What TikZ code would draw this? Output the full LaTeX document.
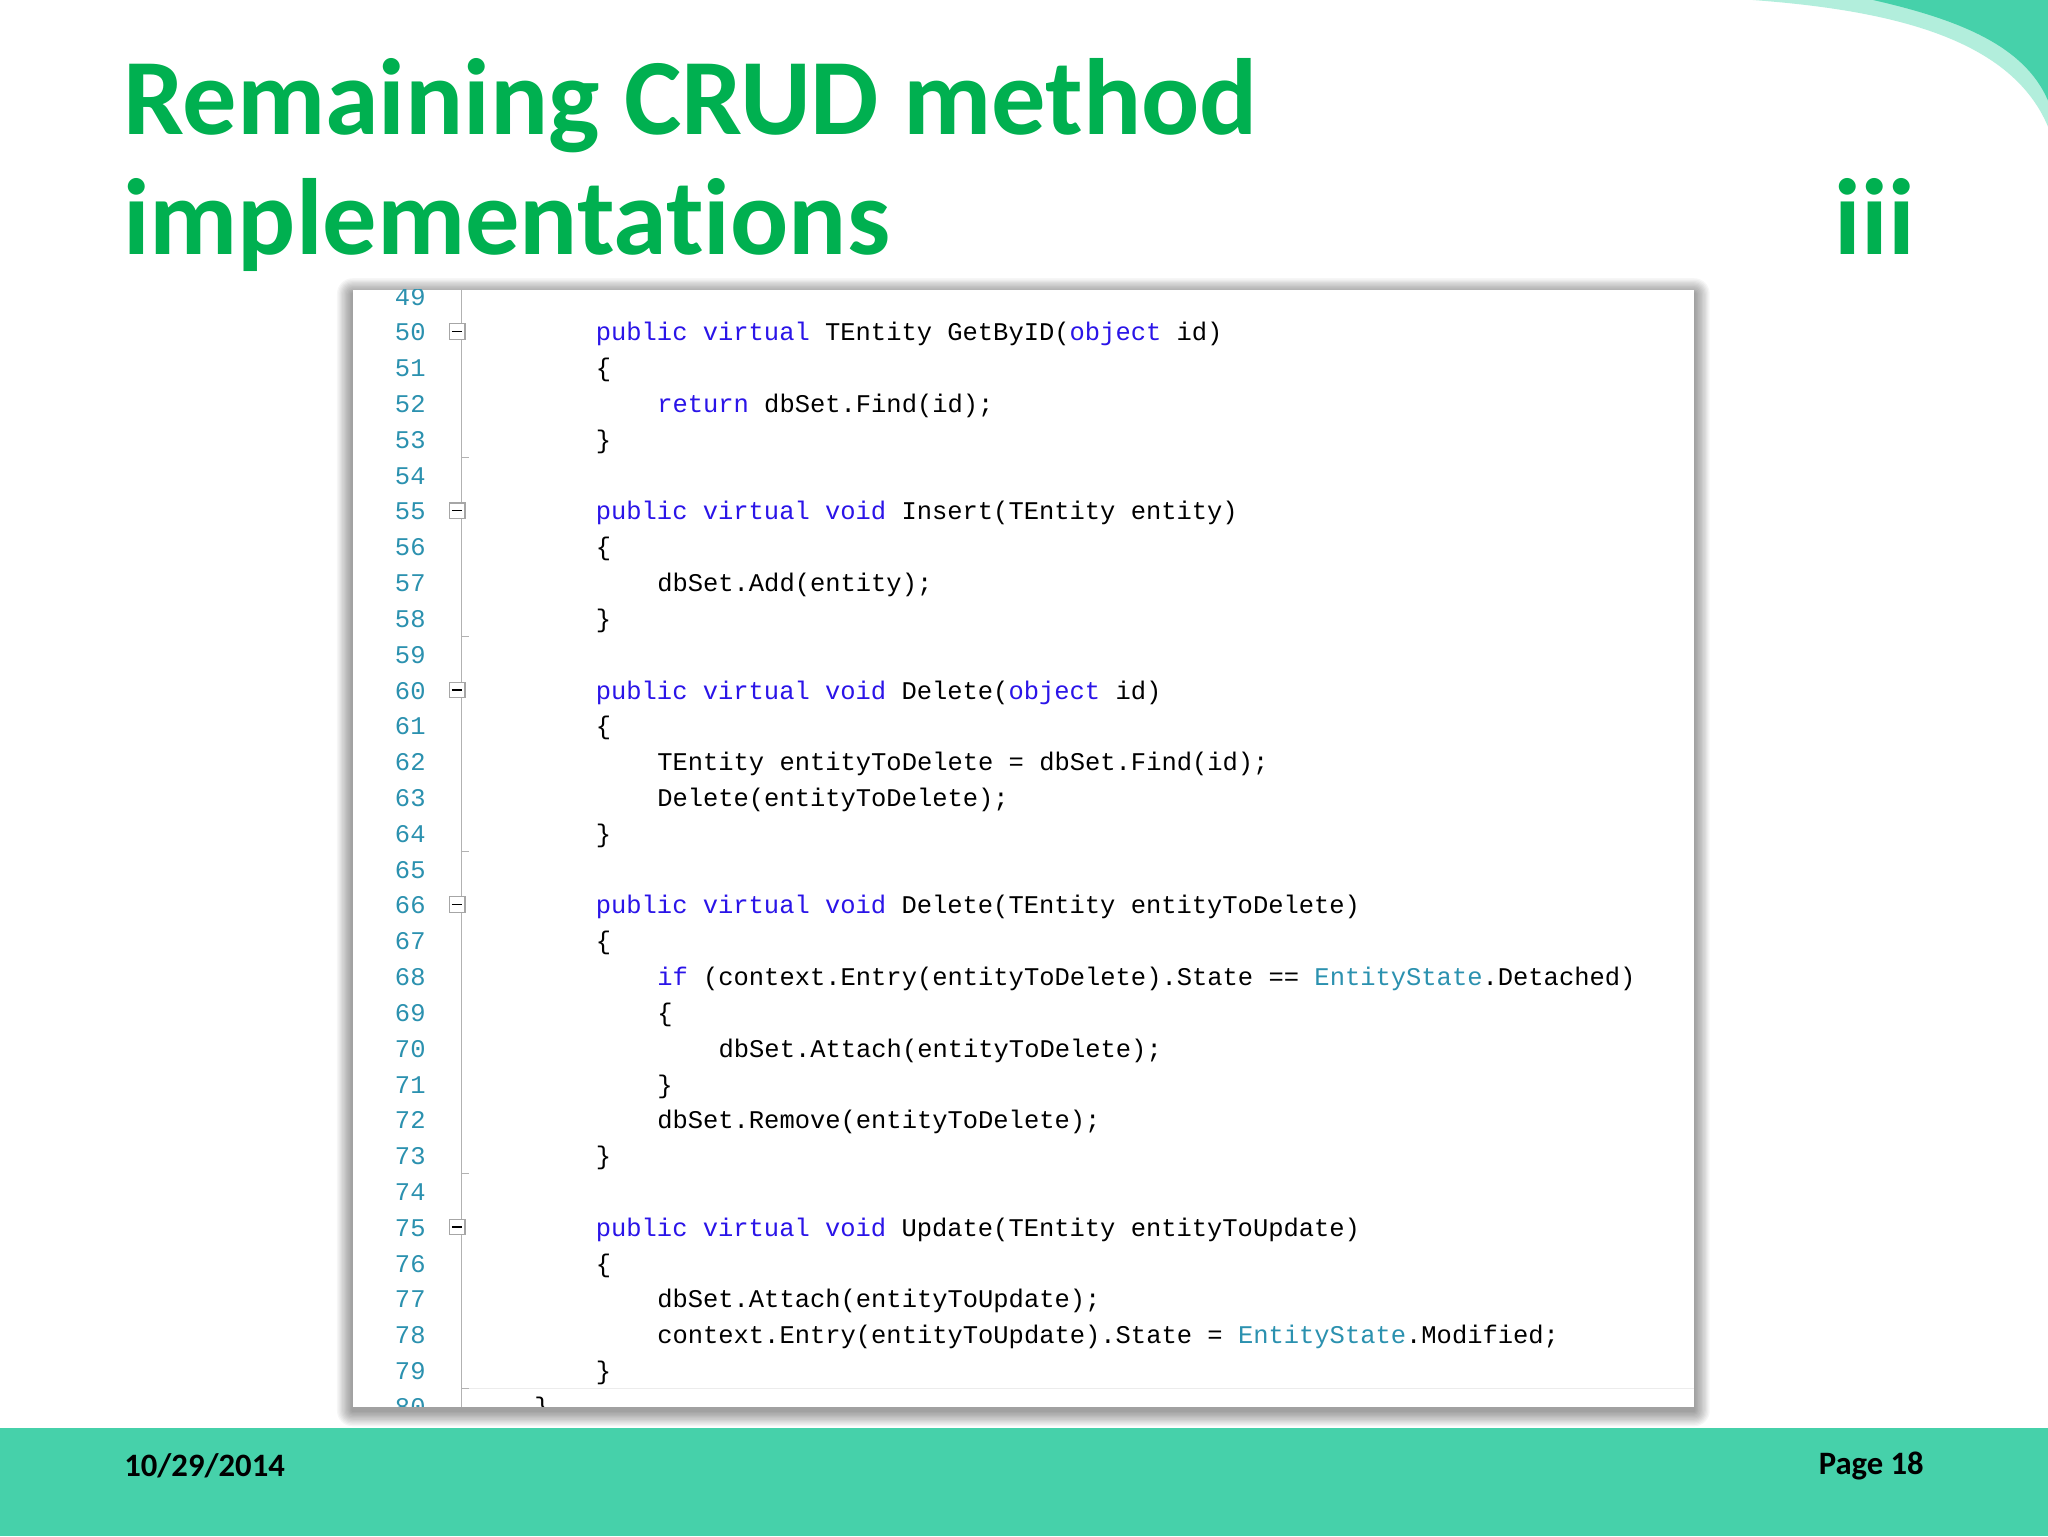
\documentclass[tikz,border=0pt]{standalone}
\usepackage{fontspec}
\setmainfont[Ligatures={NoCommon}]{Carlito}
\setmonofont{Liberation Mono}
\definecolor{ttl}{HTML}{00B050}
\definecolor{band}{HTML}{46D1AA}
\definecolor{bandlight}{HTML}{B2EEDC}
\definecolor{kwc}{HTML}{2A14E8}
\definecolor{tyc}{HTML}{2B91AF}
\newcommand{\kw}[1]{\textcolor{kwc}{#1}}
\newcommand{\ty}[1]{\textcolor{tyc}{#1}}
\tikzset{
 code/.style={anchor=base west,inner sep=0pt,font=\fontsize{19.5}{20}\ttfamily,text=black},
 lnum/.style={anchor=base east,inner sep=0pt,font=\fontsize{19.5}{20}\ttfamily,text=tyc},
 fold/.style={draw=gray!70,fill=white,line width=0.8pt,minimum size=12pt,inner sep=0pt},
 titl/.style={anchor=base west,inner sep=0pt,font=\fontsize{83}{90}\bfseries,text=ttl},
 foot/.style={inner sep=0pt,font=\fontsize{25}{27}\bfseries,text=black}
}
\begin{document}
\begin{tikzpicture}[x=1pt,y=-1pt]
\useasboundingbox (0,0) rectangle (1568,1176);
\fill[white] (0,0) rectangle (1568,1176);
% top right swoosh
\fill[bandlight] (1342,0) .. controls (1450,8) and (1540,30) .. (1568,97) -- (1568,0) -- cycle;
\fill[band] (1434,0) .. controls (1500,15) and (1550,35) .. (1568,77) -- (1568,0) -- cycle;
% title
\node[titl] (t1) at (94,103) {Remaining CRUD method};
\node[titl] (t2) at (94,195) {implementations};
\node[titl,anchor=base east] (t3) at (1466,195) {iii};
% soft shadow
\foreach \d in {12,11,...,1}{
  \fill[black,opacity=0.035,rounded corners=\d pt] ({270-\d},{222-\d+3}) rectangle ({1297+\d},{1077+\d+3});
}
\fill[white] (270,222) rectangle (1297,1077);
\begin{scope}
\clip (270,222) rectangle (1297,1077);
\draw[gray!60,line width=0.8pt] (353,222) -- (353,1077);
\draw[gray!15,line width=1.2pt] (358,1063) -- (1297,1063);
\foreach \n in {49,...,80}{
  \node[lnum] (ln\n) at (326,{261+(\n-50)*27.42}) {\n};
}
\foreach \n in {53,58,64,73,79}{
  \draw[gray!60,line width=0.8pt] (353,{268+(\n-50)*27.42}) -- (359,{268+(\n-50)*27.42});
}
\foreach \n in {50,55,60,66,75}{
  \node[fold] (f\n) at (350,{254+(\n-50)*27.42}) {};
  \draw[black,line width=1pt] (346,{254+(\n-50)*27.42}) -- (354,{254+(\n-50)*27.42});
}
\def\Y#1{{261+(#1-50)*27.42}}
\node[code] (c50) at (456,\Y{50}) {\kw{public} \kw{virtual} TEntity GetByID(\kw{object} id)};
\node[code] (c51) at (456,\Y{51}) {\{};
\node[code] (c52) at (503,\Y{52}) {\kw{return} dbSet.Find(id);};
\node[code] (c53) at (456,\Y{53}) {\}};
\node[code] (c55) at (456,\Y{55}) {\kw{public} \kw{virtual} \kw{void} Insert(TEntity entity)};
\node[code] (c56) at (456,\Y{56}) {\{};
\node[code] (c57) at (503,\Y{57}) {dbSet.Add(entity);};
\node[code] (c58) at (456,\Y{58}) {\}};
\node[code] (c60) at (456,\Y{60}) {\kw{public} \kw{virtual} \kw{void} Delete(\kw{object} id)};
\node[code] (c61) at (456,\Y{61}) {\{};
\node[code] (c62) at (503,\Y{62}) {TEntity entityToDelete = dbSet.Find(id);};
\node[code] (c63) at (503,\Y{63}) {Delete(entityToDelete);};
\node[code] (c64) at (456,\Y{64}) {\}};
\node[code] (c66) at (456,\Y{66}) {\kw{public} \kw{virtual} \kw{void} Delete(TEntity entityToDelete)};
\node[code] (c67) at (456,\Y{67}) {\{};
\node[code] (c68) at (503,\Y{68}) {\kw{if} (context.Entry(entityToDelete).State == \ty{EntityState}.Detached)};
\node[code] (c69) at (503,\Y{69}) {\{};
\node[code] (c70) at (550,\Y{70}) {dbSet.Attach(entityToDelete);};
\node[code] (c71) at (503,\Y{71}) {\}};
\node[code] (c72) at (503,\Y{72}) {dbSet.Remove(entityToDelete);};
\node[code] (c73) at (456,\Y{73}) {\}};
\node[code] (c75) at (456,\Y{75}) {\kw{public} \kw{virtual} \kw{void} Update(TEntity entityToUpdate)};
\node[code] (c76) at (456,\Y{76}) {\{};
\node[code] (c77) at (503,\Y{77}) {dbSet.Attach(entityToUpdate);};
\node[code] (c78) at (503,\Y{78}) {context.Entry(entityToUpdate).State = \ty{EntityState}.Modified;};
\node[code] (c79) at (456,\Y{79}) {\}};
\node[code] (c80) at (409,\Y{80}) {\}};
\end{scope}
% footer band
\fill[band] (0,1093) rectangle (1568,1176);
\node[foot,anchor=west] (date) at (95,1122) {10/29/2014};
\node[foot,anchor=east] (page) at (1473,1122) {Page 18};
\end{tikzpicture}
\end{document}
